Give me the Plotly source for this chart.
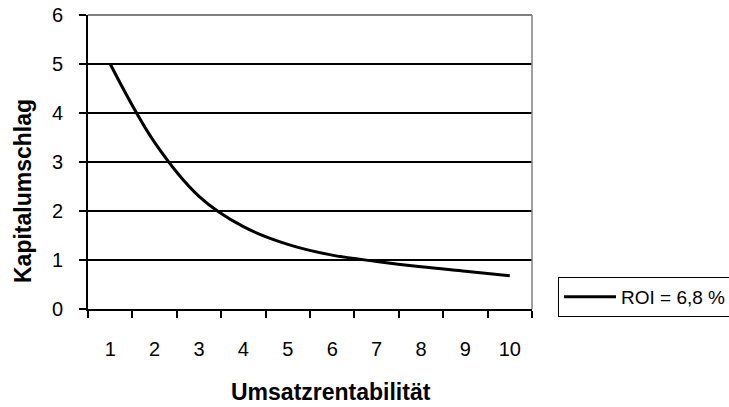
import plotly.graph_objects as go

# Umsatzrentabilität (categories) and resulting Kapitalumschlag for ROI = 6,8 %
umsatzrentabilitaet = [1, 2, 3, 4, 5, 6, 7, 8, 9, 10]
kapitalumschlag = [5.0, 3.4, 2.3, 1.68, 1.32, 1.1, 0.97, 0.86, 0.77, 0.68]
y_ticks = [0, 1, 2, 3, 4, 5, 6]
series_name = "ROI = 6,8 %"

FONT = "Liberation Sans, Arial, sans-serif"

fig = go.Figure()
fig.add_trace(go.Scatter(
    x=umsatzrentabilitaet,
    y=kapitalumschlag,
    mode="lines",
    name=series_name,
    line=dict(color="black", width=3, shape="spline", smoothing=1.0),
    showlegend=True,
))

fig.update_layout(
    width=729,
    height=407,
    margin=dict(l=88, r=197, t=15, b=98, autoexpand=False),
    paper_bgcolor="white",
    plot_bgcolor="white",
    font=dict(family=FONT, size=20, color="black"),
    showlegend=True,
    legend=dict(
        xref="container", yref="container",
        x=558 / 729, y=1 - 277 / 407, xanchor="left", yanchor="top",
        bordercolor="black", borderwidth=1,
        font=dict(family=FONT, size=19, color="black"),
        itemwidth=52, tracegroupgap=0,
    ),
    xaxis=dict(
        range=[0.5, 10.5],
        tickmode="array",
        tickvals=umsatzrentabilitaet,
        ticktext=[str(v) for v in umsatzrentabilitaet],
        ticks="",
        ticklabelstandoff=21,
        showline=True, linecolor="black", linewidth=2,
        showgrid=False, zeroline=False,
        minor=dict(tick0=0.5, dtick=1, ticks="outside", ticklen=7,
                   tickwidth=1.5, tickcolor="black", showgrid=False),
        tickfont=dict(family=FONT, size=20),
        automargin=False,
        fixedrange=True,
    ),
    yaxis=dict(
        range=[0, 6],
        tickmode="array",
        tickvals=y_ticks,
        ticks="outside", ticklen=7, tickwidth=1.5, tickcolor="black",
        ticklabelstandoff=12,
        showline=True, linecolor="black", linewidth=2,
        showgrid=True, gridcolor="black", gridwidth=1.5,
        zeroline=False,
        tickfont=dict(family=FONT, size=20),
        automargin=False,
        fixedrange=True,
    ),
    shapes=[
        # gray border along the top and right of the plot area
        dict(type="line", xref="paper", yref="paper", x0=0, x1=1, y0=1, y1=1,
             line=dict(color="#808080", width=2), layer="above"),
        dict(type="line", xref="paper", yref="paper", x0=1, x1=1, y0=0, y1=1,
             line=dict(color="#808080", width=1.5), layer="above"),
    ],
    annotations=[
        dict(text="<b>Umsatzrentabilität</b>", xref="paper", yref="paper",
             x=(331 - 88) / 444, y=-(392 - 309) / 294, xanchor="center", yanchor="middle",
             showarrow=False, font=dict(family=FONT, size=23)),
        dict(text="<b>Kapitalumschlag</b>", xref="paper", yref="paper",
             x=-(88 - 23) / 444, y=(309 - 191) / 294, xanchor="center", yanchor="middle",
             textangle=-90, showarrow=False, font=dict(family=FONT, size=23)),
    ],
)

fig.write_html("out.html")
